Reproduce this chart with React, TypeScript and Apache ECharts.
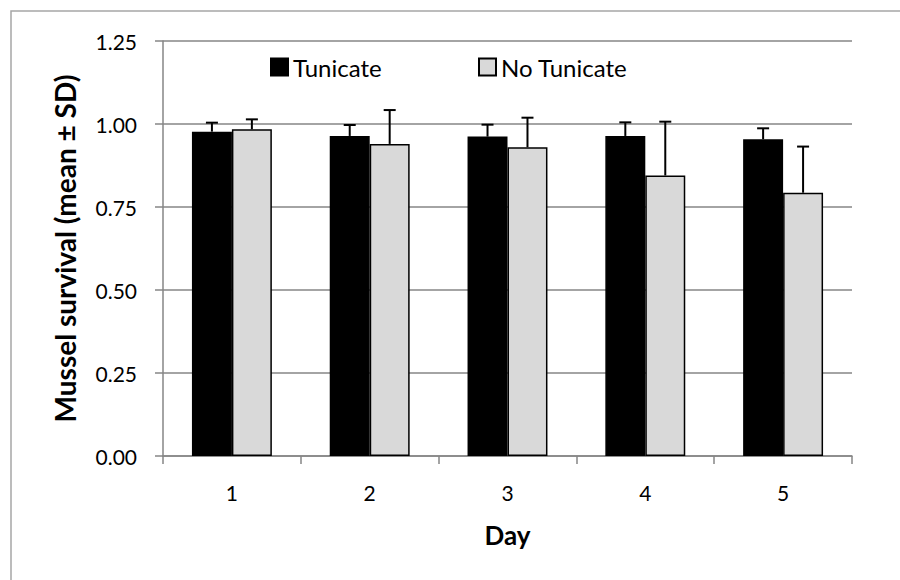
import React, { useEffect, useRef } from "react";
import * as echarts from "echarts";

const days = ["1", "2", "3", "4", "5"];
const tunicateMean = [0.977, 0.964, 0.962, 0.964, 0.954];
const tunicateSD = [0.027, 0.033, 0.036, 0.041, 0.033];
const noTunicateMean = [0.984, 0.94, 0.93, 0.845, 0.793];
const noTunicateSD = [0.03, 0.102, 0.089, 0.162, 0.139];
const yTicks = [0, 0.25, 0.5, 0.75, 1.0, 1.25];

const FONT = "Lato, 'Open Sans', sans-serif";

function errorSeries(name: string, means: number[], sds: number[], side: number) {
  return {
    type: "custom",
    name: name + " SD",
    data: means.map((m, i) => [i, m, m + sds[i]]),
    z: 5,
    silent: true,
    renderItem: (params: any, api: any) => {
      const idx = api.value(0);
      const base = api.coord([idx, api.value(1)]);
      const top = api.coord([idx, api.value(2)]);
      const band = api.size([1, 0])[0];
      const barW = (band * 0.58) / 2;
      const x = base[0] + side * (barW / 2);
      const cap = 6;
      const style = { stroke: "#000", lineWidth: 2 };
      return {
        type: "group",
        children: [
          { type: "line", shape: { x1: x, y1: base[1], x2: x, y2: top[1] }, style },
          { type: "line", shape: { x1: x - cap, y1: top[1], x2: x + cap, y2: top[1] }, style },
        ],
      };
    },
  };
}

export default function App() {
  const ref = useRef<HTMLDivElement>(null);
  useEffect(() => {
    if (!ref.current) return;
    const chart = echarts.init(ref.current, undefined, { renderer: "svg" });
    const legendText = { fontSize: 24, color: "#000", fontFamily: FONT };
    chart.setOption({
      animation: false,
      textStyle: { fontFamily: FONT },
      graphic: [
        {
          type: "rect",
          shape: { x: 11, y: 11, width: 1000, height: 700 },
          style: { fill: "none", stroke: "#a6a6a6", lineWidth: 1.5 },
          silent: true,
          z: -10,
        },
      ],
      legend: [
        {
          data: ["Tunicate"],
          left: 265,
          top: 50,
          icon: "rect",
          itemWidth: 17,
          itemHeight: 17,
          textStyle: legendText,
        },
        {
          data: ["No Tunicate"],
          left: 473,
          top: 50,
          icon: "rect",
          itemWidth: 17,
          itemHeight: 17,
          textStyle: legendText,
        },
      ],
      grid: { left: 163, right: 48, top: 41, bottom: 124, containLabel: false },
      xAxis: {
        type: "category",
        data: days,
        name: "Day",
        nameLocation: "middle",
        nameGap: 66,
        nameTextStyle: { fontSize: 26, fontWeight: "bold", color: "#000", fontFamily: FONT },
        axisLine: { lineStyle: { color: "#868686", width: 1.5 } },
        axisTick: { show: true, length: 8, lineStyle: { color: "#868686", width: 1.5 } },
        axisLabel: { fontSize: 21, color: "#000", margin: 26, fontFamily: FONT },
      },
      yAxis: {
        type: "value",
        min: 0,
        max: 1.25,
        interval: 0.25,
        name: "Mussel survival (mean ± SD)",
        nameLocation: "middle",
        nameGap: 84,
        nameTextStyle: {
          fontSize: 28,
          fontWeight: "bold",
          color: "#000",
          fontFamily: FONT,
        },
        axisLine: { show: true, lineStyle: { color: "#868686", width: 1.5 } },
        axisTick: { show: true, length: 8, lineStyle: { color: "#868686", width: 1.5 } },
        axisLabel: {
          fontSize: 21,
          color: "#000",
          margin: 26,
          fontFamily: FONT,
          formatter: (v: number) => (yTicks.includes(v) ? v.toFixed(2) : ""),
        },
        splitLine: { lineStyle: { color: "#868686", width: 1.5 } },
      },
      series: [
        {
          type: "bar",
          name: "Tunicate",
          data: tunicateMean,
          barGap: "0%",
          barCategoryGap: "42%",
          itemStyle: { color: "#000", borderColor: "#000", borderWidth: 1.5 },
        },
        {
          type: "bar",
          name: "No Tunicate",
          data: noTunicateMean,
          barGap: "0%",
          barCategoryGap: "42%",
          itemStyle: { color: "#d9d9d9", borderColor: "#000", borderWidth: 1.5 },
        },
        errorSeries("Tunicate", tunicateMean, tunicateSD, -1),
        errorSeries("No Tunicate", noTunicateMean, noTunicateSD, 1),
      ],
    });
    return () => chart.dispose();
  }, []);
  return (
    <div style={{ position: "fixed", left: 0, top: 0, width: 900, height: 580, background: "#fff" }}>
      <div ref={ref} style={{ width: 900, height: 580 }} />
    </div>
  );
}
